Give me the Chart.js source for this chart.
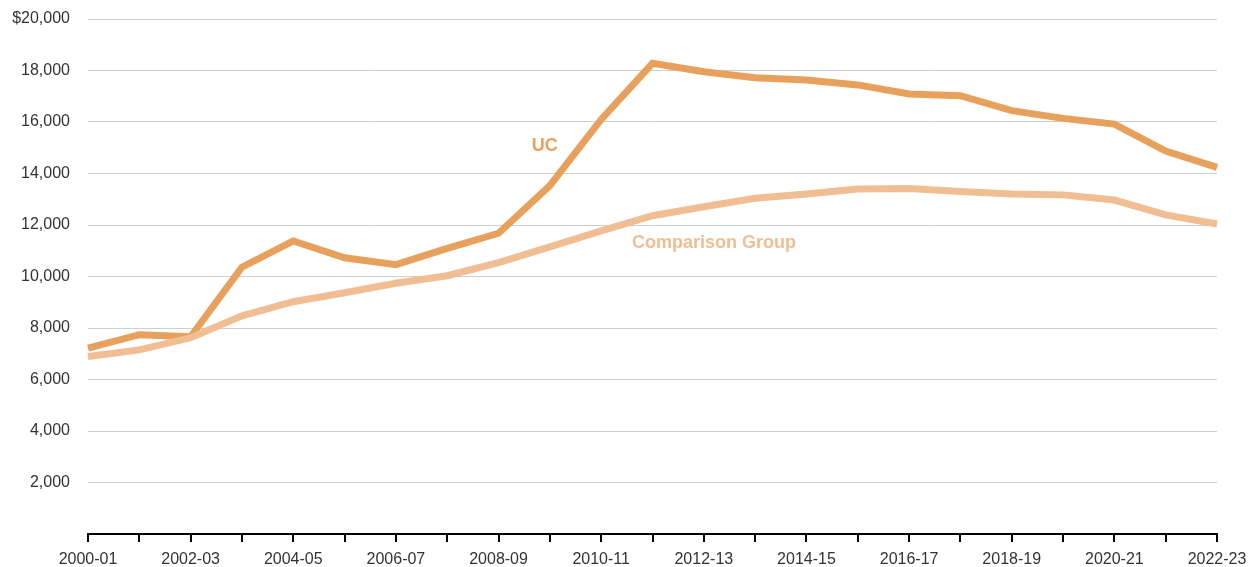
<!DOCTYPE html>
<html>
<head>
<meta charset="utf-8">
<script src="https://cdn.jsdelivr.net/npm/chart.js@4.4.1/dist/chart.umd.min.js"></script>
<style>
  html, body { margin: 0; padding: 0; background: #fff; }
  #wrap { width: 1257px; height: 567px; }
</style>
</head>
<body>
<div id="wrap"><canvas id="chart"></canvas></div>
<script>
const years = [
    "2000-01", "2001-02", "2002-03", "2003-04", "2004-05", "2005-06", "2006-07", "2007-08",
    "2008-09", "2009-10", "2010-11", "2011-12", "2012-13", "2013-14", "2014-15", "2015-16",
    "2016-17", "2017-18", "2018-19", "2019-20", "2020-21", "2021-22", "2022-23"
];
const ucValues = [
    7220, 7740, 7660, 10360, 11380, 10730, 10460, 11090,
    11680, 13530, 16100, 18280, 17950, 17720, 17630, 17440,
    17090, 17020, 16440, 16140, 15920, 14870, 14240
];
const comparisonValues = [
    6890, 7150, 7620, 8470, 9020, 9370, 9740, 10030,
    10540, 11150, 11770, 12360, 12710, 13040, 13200, 13400,
    13420, 13300, 13200, 13170, 12970, 12390, 12040
];
const yTicks = [0, 2000, 4000, 6000, 8000, 10000, 12000, 14000, 16000, 18000, 20000];

// series labels placed in data coordinates: [text, x index, y value]
const seriesLabels = [
    ["UC", 8.9, 15070],
    ["Comparison Group", 12.2, 11300]
];

const ucColor = "#E8A15C";
const compColor = "#F0BE92";
const labelColors = [ucColor, compColor];

const lineLabels = {
    id: "lineLabels",
    afterDatasetsDraw(chart) {
        const ctx = chart.ctx;
        const xs = chart.scales.x;
        const ys = chart.scales.y;
        ctx.save();
        ctx.font = "bold 18px 'Liberation Sans', Arial, sans-serif";
        ctx.textAlign = "center";
        ctx.textBaseline = "middle";
        seriesLabels.forEach((l, i) => {
            ctx.fillStyle = labelColors[i];
            ctx.fillText(l[0], xs.getPixelForValue(l[1]), ys.getPixelForValue(l[2]));
        });
        ctx.restore();
    }
};

new Chart(document.getElementById("chart"), {
    type: "line",
    data: {
        labels: years,
        datasets: [
            {
                label: "Comparison Group",
                data: comparisonValues,
                borderColor: compColor,
                borderWidth: 7,
                pointRadius: 0,
                tension: 0,
                fill: false
            },
            {
                label: "UC",
                data: ucValues,
                borderColor: ucColor,
                borderWidth: 7,
                pointRadius: 0,
                tension: 0,
                fill: false
            }
        ]
    },
    options: {
        responsive: true,
        maintainAspectRatio: false,
        animation: false,
        layout: { padding: { top: 19, right: 40, bottom: 0, left: 0 } },
        plugins: {
            legend: { display: false },
            tooltip: { enabled: false }
        },
        scales: {
            x: {
                offset: false,
                afterFit: (scale) => { scale.height = 33; },
                border: { color: "#000", width: 2 },
                grid: {
                    drawOnChartArea: false,
                    drawTicks: true,
                    tickLength: 8,
                    color: "#000",
                    lineWidth: 2
                },
                ticks: {
                    autoSkip: false,
                    maxRotation: 0,
                    padding: 8,
                    color: "#333",
                    font: { family: "'Liberation Sans', Arial, sans-serif", size: 16 },
                    callback: (v, i) => (i % 2 === 0 ? years[i] : "")
                }
            },
            y: {
                min: 0,
                max: 20000,
                afterFit: (scale) => {
                    scale.width = 88;
                    scale.paddingTop = 0;
                    scale.paddingBottom = 0;
                },
                afterBuildTicks: (scale) => { scale.ticks = yTicks.map(v => ({ value: v })); },
                border: { display: false },
                grid: {
                    drawTicks: false,
                    color: (c) => (c.tick && c.tick.value === 0 ? "rgba(0,0,0,0)" : "#cfcfcf"),
                    lineWidth: 1
                },
                ticks: {
                    padding: 18,
                    color: "#333",
                    font: { family: "'Liberation Sans', Arial, sans-serif", size: 16 },
                    callback: (v) => {
                        if (v === 0) return "";
                        const s = v.toLocaleString("en-US");
                        return v === 20000 ? "$" + s : s;
                    }
                }
            }
        }
    },
    plugins: [lineLabels]
});
</script>
</body>
</html>
